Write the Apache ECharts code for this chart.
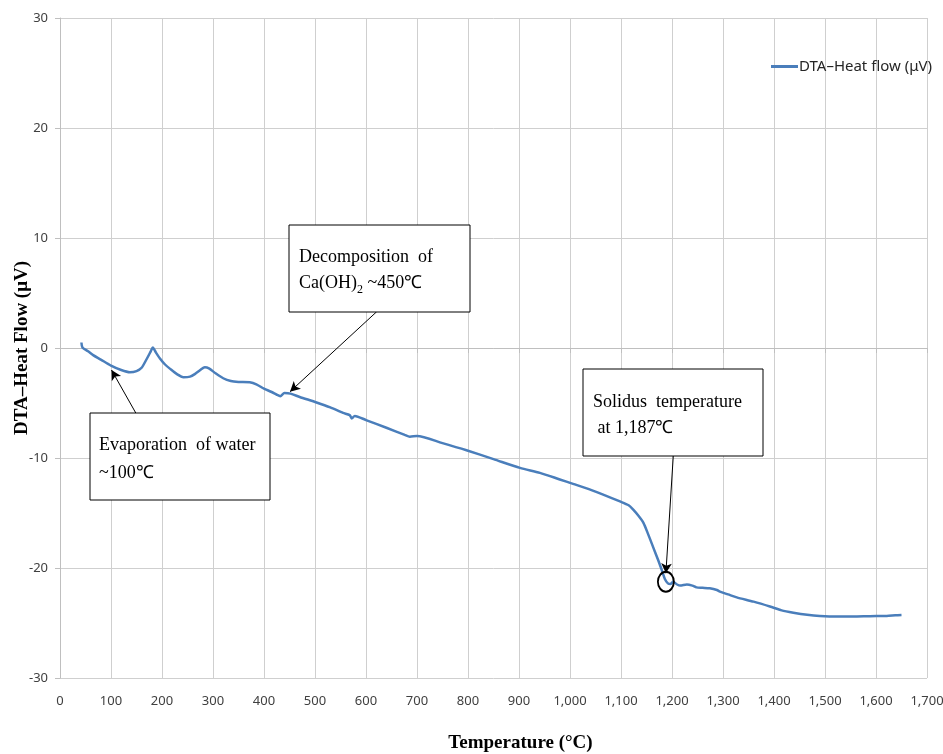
<!DOCTYPE html>
<html>
<head>
<meta charset="utf-8">
<script src="https://cdn.jsdelivr.net/npm/echarts@6/dist/echarts.min.js"></script>
<style>
html,body{margin:0;padding:0;background:#fff;}
#chart{width:943px;height:754px;}
</style>
</head>
<body>
<div id="chart"></div>
<script>
// Data
var temperatures = [42,44,55,65,80,100,120,137,150,160,170,178,182,188,196,206,216,230,242,255,265,275,284,292,305,320,335,350,372,385,400,415,425,432,440,452,470,503,530,555,568,572,578,600,640,676,686,700,750,797,850,902,941,980,1006,1050,1098,1115,1124,1135,1144,1153,1163,1173,1180,1186,1192,1197,1202,1210,1216,1229,1240,1248,1260,1274,1288,1294,1310,1327,1360,1392,1415,1438,1465,1490,1523,1555,1588,1621,1638,1650];
var heatFlow = [0.5,0.05,-0.3,-0.65,-1.05,-1.6,-2.0,-2.2,-2.1,-1.8,-1.0,-0.3,0.05,-0.4,-0.95,-1.5,-1.9,-2.4,-2.65,-2.6,-2.35,-2.0,-1.75,-1.85,-2.3,-2.75,-3.0,-3.08,-3.12,-3.3,-3.7,-4.0,-4.25,-4.38,-4.1,-4.15,-4.45,-4.95,-5.4,-5.9,-6.1,-6.4,-6.18,-6.55,-7.25,-7.9,-8.06,-8.0,-8.65,-9.3,-10.1,-10.9,-11.35,-11.95,-12.35,-13.05,-13.95,-14.3,-14.7,-15.3,-15.9,-16.9,-18.1,-19.3,-20.2,-21.0,-21.4,-21.45,-21.25,-21.5,-21.6,-21.5,-21.6,-21.76,-21.8,-21.85,-22.0,-22.15,-22.4,-22.67,-23.06,-23.5,-23.85,-24.06,-24.25,-24.36,-24.42,-24.42,-24.38,-24.36,-24.3,-24.27];
var seriesName = 'DTA\u2013Heat flow (\u03bcV)';
var xTicks = {min: 0, max: 1700, step: 100};
var yTicks = {min: -30, max: 30, step: 10};
// annotation anchors (data units): arrow start -> arrow end
var arrowEvap = [[149, -5.94], [101, -2.0]];
var arrowDecomp = [[621, 3.3], [451, -3.97]];
var arrowSolidus = [[1202.5, -9.82], [1188, -20.48]];
var solidusPoint = [1188, -21.25];

var seriesData = temperatures.map(function (t, i) { return [t, heatFlow[i]]; });

var chart = echarts.init(document.getElementById('chart'), null, {renderer: 'canvas'});
var serif = '"Liberation Serif", "Times New Roman", serif';
var sans = '"Noto Sans", "Open Sans", sans-serif';

function fmt(v) { return String(v).replace(/\B(?=(\d{3})+(?!\d))/g, ','); }

var option = {
  backgroundColor: '#fff',
  animation: false,
  grid: {left: 60, right: 16, top: 18, bottom: 76, containLabel: false, outerBoundsMode: 'none'},
  legend: {
    left: 766, top: 54,
    icon: 'rect', itemWidth: 27, itemHeight: 3, itemGap: 2,
    textStyle: {fontFamily: sans, fontSize: 15, color: '#262626', padding: [0,0,0,-4]},
    data: [seriesName]
  },
  xAxis: {
    type: 'value', min: xTicks.min, max: xTicks.max, interval: xTicks.step,
    name: 'Temperature (\u00b0C)', nameLocation: 'middle', nameGap: 56, nameMoveOverlap: false,
    nameTextStyle: {fontFamily: serif, fontWeight: 'bold', fontSize: 19, color: '#000', padding: [0,0,0,54]},
    axisLine: {show: true, lineStyle: {color: '#bfbfbf', width: 1}},
    axisTick: {show: true, length: 5, lineStyle: {color: '#bfbfbf'}},
    axisLabel: {margin: 17, fontFamily: sans, fontSize: 13, color: '#404040', formatter: fmt},
    splitLine: {show: true, lineStyle: {color: '#cfcfcf', width: 1}}
  },
  yAxis: {
    type: 'value', min: yTicks.min, max: yTicks.max, interval: yTicks.step,
    name: 'DTA\u2013Heat Flow (\u03bcV)', nameLocation: 'middle', nameGap: 28, nameRotate: 90, nameMoveOverlap: false,
    nameTextStyle: {fontFamily: serif, fontWeight: 'bold', fontSize: 19, color: '#000'},
    axisLine: {show: true, lineStyle: {color: '#bfbfbf', width: 1}},
    axisTick: {show: true, length: 5, lineStyle: {color: '#bfbfbf'}},
    axisLabel: {margin: 12, fontFamily: sans, fontSize: 13, color: '#404040'},
    splitLine: {show: true, lineStyle: {color: '#cfcfcf', width: 1}}
  },
  series: [{
    name: seriesName,
    type: 'line',
    data: seriesData,
    showSymbol: false, symbol: 'none',
    smooth: 0.25,
    itemStyle: {color: '#4a7ebb'},
    lineStyle: {color: '#4a7ebb', width: 2.5},
    markLine: {
      silent: true, animation: false,
      symbol: ['none', 'arrow'], symbolSize: [8, 10],
      label: {show: false},
      lineStyle: {color: '#000', width: 1, type: 'solid'},
      data: [
        [{coord: arrowEvap[0]}, {coord: arrowEvap[1]}],
        [{coord: arrowDecomp[0]}, {coord: arrowDecomp[1]}],
        [{coord: arrowSolidus[0]}, {coord: arrowSolidus[1]}]
      ]
    },
    markPoint: {
      silent: true, animation: false,
      symbol: 'circle', symbolSize: [16, 20],
      label: {show: false},
      itemStyle: {color: 'rgba(0,0,0,0)', borderColor: '#000', borderWidth: 2},
      data: [{coord: solidusPoint}]
    }
  }],
  graphic: [
    {type: 'rect', shape: {x: 90, y: 413, width: 180, height: 87}, style: {fill: '#fff', stroke: '#000', lineWidth: 1}, z: 100},
    {type: 'text', x: 99, y: 431, z: 101, style: {text: 'Evaporation  of water\n~100\u2103', font: '18px ' + serif, fill: '#000', lineHeight: 28}},
    {type: 'rect', shape: {x: 289, y: 225, width: 181, height: 87}, style: {fill: '#fff', stroke: '#000', lineWidth: 1}, z: 100},
    {type: 'text', x: 299, y: 244, z: 101, style: {
      text: 'Decomposition  of\nCa(OH){sub|2} ~450\u2103', font: '18px ' + serif, fill: '#000', lineHeight: 26,
      rich: {sub: {fontFamily: serif, fontSize: 12, verticalAlign: 'bottom', padding: [8,0,0,0], lineHeight: 26}}
    }},
    {type: 'rect', shape: {x: 583, y: 369, width: 180, height: 87}, style: {fill: '#fff', stroke: '#000', lineWidth: 1}, z: 100},
    {type: 'text', x: 593, y: 389, z: 101, style: {text: 'Solidus  temperature\n at 1,187\u2103', font: '18px ' + serif, fill: '#000', lineHeight: 26}}
  ]
};
chart.setOption(option);
</script>
</body>
</html>
